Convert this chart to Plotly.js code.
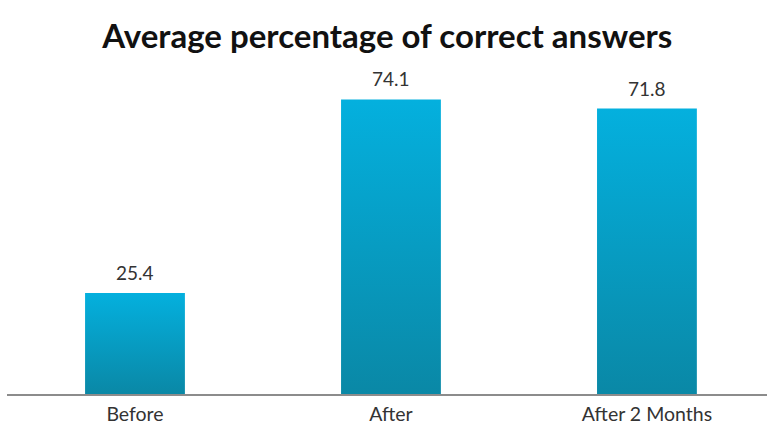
<!DOCTYPE html>
<html>
<head>
<meta charset="utf-8">
<script src="https://cdn.plot.ly/plotly-3.0.1.min.js"></script>
<style>html,body{margin:0;padding:0;background:#fff;}#chart{width:767px;height:433px;}</style>
</head>
<body>
<div id="chart"></div>
<script>
const categories = ["Before", "After", "After 2 Months"];
const values = [25.4, 74.1, 71.8];
const chartTitle = "Average percentage of correct answers";

const FONT = "Lato, 'Open Sans', sans-serif";

const trace = {
  type: "bar",
  x: categories,
  y: values,
  marker: {color: "#0a9cc4", line: {width: 0}},
  hoverinfo: "none"
};

const labelAnnotations = categories.map((c, i) => ({
  x: c, y: values[i], xref: "x", yref: "y",
  text: values[i].toFixed(1),
  showarrow: false, yanchor: "bottom", yshift: 7,
  font: {family: FONT, size: 19, color: "#333333"}
}));

const layout = {
  width: 767, height: 433,
  margin: {l: 7, r: 0, t: 76, b: 39},
  paper_bgcolor: "#ffffff", plot_bgcolor: "#ffffff",
  bargap: 0.61,
  showlegend: false,
  title: {
    text: "<b>" + chartTitle + "</b>",
    font: {family: FONT, size: 33, color: "#111111"},
    x: 0.505, xanchor: "center", y: 0.915, yanchor: "middle"
  },
  xaxis: {
    type: "category",
    range: [-0.5, 2.469],
    showgrid: false, zeroline: false,
    showline: true, linecolor: "#8c8c8c", linewidth: 2,
    ticks: "", ticklabelstandoff: 2,
    tickfont: {family: FONT, size: 19.5, color: "#333333"}
  },
  yaxis: {
    range: [0, 80],
    visible: false, showgrid: false, zeroline: false
  },
  annotations: labelAnnotations
};

Plotly.newPlot("chart", [trace], layout, {staticPlot: true, displayModeBar: false}).then(gd => {
  const svg = gd.querySelector("svg.main-svg");
  const ns = "http://www.w3.org/2000/svg";
  let defs = svg.querySelector("defs");
  if (!defs) { defs = document.createElementNS(ns, "defs"); svg.insertBefore(defs, svg.firstChild); }
  const grad = document.createElementNS(ns, "linearGradient");
  grad.setAttribute("id", "barGrad");
  grad.setAttribute("x1", "0"); grad.setAttribute("y1", "0");
  grad.setAttribute("x2", "0"); grad.setAttribute("y2", "1");
  [["0", "#04b0de"], ["1", "#0a88a6"]].forEach(([o, c]) => {
    const s = document.createElementNS(ns, "stop");
    s.setAttribute("offset", o); s.setAttribute("stop-color", c);
    grad.appendChild(s);
  });
  defs.appendChild(grad);
  gd.querySelectorAll(".barlayer .point path").forEach(p => { p.style.fill = "url(#barGrad)"; });
});
</script>
</body>
</html>
